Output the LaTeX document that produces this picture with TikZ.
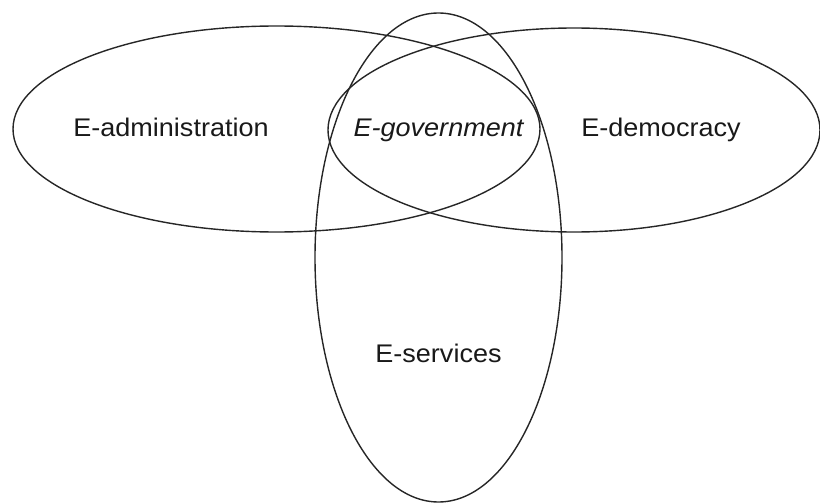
\documentclass[tikz,border=0pt]{standalone}
\usepackage{fontspec}
\setmainfont{Liberation Sans}[FakeStretch=1.06]
\begin{document}
\begin{tikzpicture}[x=1pt,y=-1pt,
  setshape/.style={draw=black!85, line width=1.4pt},
  setlabel/.style={font=\fontsize{25.5}{30}\selectfont, text=black!90, inner sep=0pt}]
  \useasboundingbox (0,0) rectangle (820,503);
  % the three overlapping domains
  \draw[setshape] (276.5,129) ellipse [x radius=263.5, y radius=103];
  \draw[setshape] (574,130) ellipse [x radius=246, y radius=102];
  \draw[setshape] (438.5,257.5) ellipse [x radius=123.5, y radius=244.5];
  % labels
  \node[setlabel, anchor=base] (adm) at (171,136.5) {E-administration};
  \node[setlabel, anchor=base] (gov) at (438.5,136.5) {\itshape E-government};
  \node[setlabel, anchor=base] (dem) at (661,136) {E-democracy};
  \node[setlabel, anchor=base] (srv) at (438.5,362.5) {E-services};
\end{tikzpicture}
\end{document}
